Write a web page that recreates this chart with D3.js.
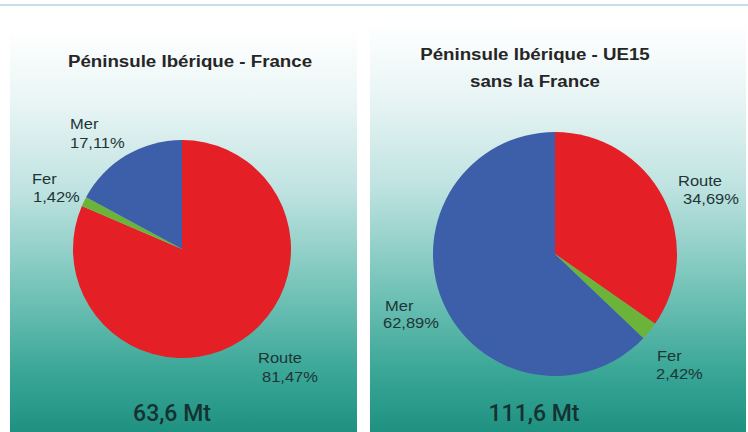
<!DOCTYPE html>
<html>
<head>
<meta charset="utf-8">
<script src="https://cdn.jsdelivr.net/npm/d3@7"></script>
<style>
  html, body { margin: 0; padding: 0; background: #ffffff; }
  svg { display: block; }
</style>
</head>
<body>
<svg id="chart" width="748" height="432"></svg>
<script>
// Modes of transport, in clockwise order from 12 o'clock
const categories = ["Route", "Fer", "Mer"];
const franceShares = [81.47, 1.42, 17.11];
const ue15Shares = [34.69, 2.42, 62.89];
const totals = ["63,6 Mt", "111,6 Mt"];
const titles = [["Péninsule Ibérique - France"], ["Péninsule Ibérique - UE15", "sans la France"]];

const colors = d3.scaleOrdinal().domain(categories).range(["#e41f26", "#6cb33a", "#3d5ea8"]);
const fmt = v => d3.format(".2f")(v).replace(".", ",") + "%";

const svg = d3.select("#chart");

// places a text at (x, y) with a slight horizontal stretch
function stretchedText(sel, x, y, sx) {
  return sel.append("text").attr("x", 0).attr("y", 0)
    .attr("transform", `translate(${x},${y}) scale(${sx},1)`);
}

// thin rule across the top
svg.append("line").attr("x1", 0).attr("x2", 748).attr("y1", 5).attr("y2", 5)
  .attr("stroke", "#c9dde8").attr("stroke-width", 2);

const defs = svg.append("defs");
const grad = defs.append("linearGradient").attr("id", "bg").attr("x1", 0).attr("x2", 0).attr("y1", 0).attr("y2", 1);
[[0, "#ffffff"], [0.18, "#e9f5f5"], [0.4, "#bfe3e1"], [0.65, "#74c3b8"], [0.85, "#3aa797"], [1, "#1f9181"]]
  .forEach(([o, c]) => grad.append("stop").attr("offset", o).attr("stop-color", c));

// label anchors: [x name, baseline name, x value, baseline value]
const panels = [
  { x: 10, y: 30, w: 347, h: 402, data: franceShares, title: titles[0], titleY: 67, titleX: 190,
    cx: 182, cy: 249, r: 109, total: totals[0], totalX: 172,
    labels: { Route: [258, 363, 262, 382], Fer: [32, 184, 33, 202], Mer: [70, 129, 70, 148] } },
  { x: 370, y: 22, w: 376, h: 410, data: ue15Shares, title: titles[1], titleY: 60, titleX: 535,
    cx: 555, cy: 254, r: 122, total: totals[1], totalX: 534,
    labels: { Route: [678, 186, 683, 204], Fer: [657, 361, 656, 379], Mer: [385, 311, 383, 328] } }
];

const pie = d3.pie().sort(null).value(d => d.v);

panels.forEach(p => {
  const g = svg.append("g");
  g.append("rect").attr("x", p.x).attr("y", p.y).attr("width", p.w).attr("height", p.h)
    .attr("fill", "url(#bg)");

  p.title.forEach((t, i) => {
    stretchedText(g, p.titleX, p.titleY + i * 27, 1.1)
      .attr("text-anchor", "middle")
      .attr("font-family", "Liberation Sans, Arial, sans-serif")
      .attr("font-weight", "bold").attr("font-size", 17).attr("fill", "#262626")
      .text(t);
  });

  const rows = categories.map((c, i) => ({ k: c, v: p.data[i] }));
  const arc = d3.arc().innerRadius(0).outerRadius(p.r);
  g.append("g").attr("transform", `translate(${p.cx},${p.cy})`)
    .selectAll("path").data(pie(rows)).join("path")
    .attr("d", arc).attr("fill", d => colors(d.data.k));

  rows.forEach(d => {
    const [nx, ny, vx, vy] = p.labels[d.k];
    [[nx, ny, d.k], [vx, vy, fmt(d.v)]].forEach(([x, y, s]) => {
      stretchedText(g, x, y, 1.1)
        .attr("font-family", "Liberation Sans, Arial, sans-serif")
        .attr("font-size", 15).attr("fill", "#1e3535")
        .text(s);
    });
  });

  g.append("text").attr("x", p.totalX).attr("y", 421).attr("text-anchor", "middle")
    .attr("font-family", "Roboto, Arial, sans-serif")
    .attr("font-weight", 500)
    .attr("font-size", 23).attr("fill", "#143232")
    .text(p.total);
});
</script>
</body>
</html>
